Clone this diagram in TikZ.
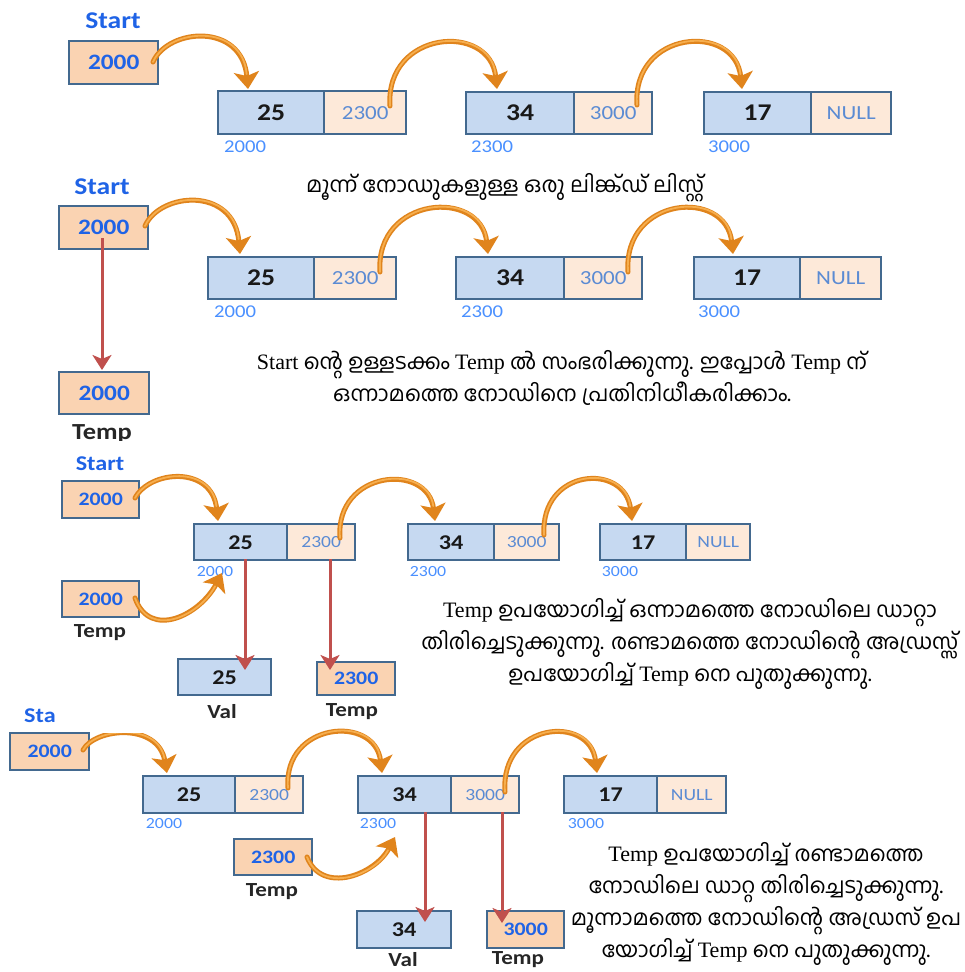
\documentclass[tikz,border=0pt]{standalone}
\usepackage{fontspec}
\usetikzlibrary{arrows.meta}
\setmainfont{Liberation Serif}
\newfontfamily\mlfont[Script=Malayalam,Scale=0.98]{Hind Kochi}
\newfontfamily\calfont[FakeStretch=1.15]{Carlito}

\definecolor{cellblue}{HTML}{C6D9F1}
\definecolor{ptrpeach}{HTML}{FDE9D9}
\definecolor{headpeach}{HTML}{FAD3B2}
\definecolor{edgeblue}{HTML}{43698F}
\definecolor{headtext}{HTML}{1F63E6}
\definecolor{ptrtext}{HTML}{5B8BD3}
\definecolor{addrtext}{HTML}{4A90FF}
\definecolor{linkorange}{HTML}{E0841C}
\definecolor{linklight}{HTML}{F6AE4E}
\definecolor{copyred}{HTML}{C0504D}

\tikzset{
  cellbase/.style={draw=edgeblue, line width=2.4pt, inner sep=0pt, anchor=north west},
  datacell/.style={cellbase, fill=cellblue, text=black!90,
    font=\calfont\bfseries\fontsize{24}{24}\selectfont},
  ptrcell/.style={cellbase, fill=ptrpeach, text=ptrtext,
    font=\calfont\fontsize{20}{20}\selectfont},
  headbox/.style={cellbase, fill=headpeach, text=headtext,
    font=\calfont\bfseries\fontsize{22}{22}\selectfont},
  smalldata/.style={datacell, font=\calfont\bfseries\fontsize{21}{21}\selectfont},
  smallptr/.style={ptrcell, font=\calfont\fontsize{17}{17}\selectfont},
  smallhead/.style={headbox, font=\calfont\bfseries\fontsize{19}{19}\selectfont},
  addr/.style={text=addrtext, inner sep=0pt, font=\calfont\fontsize{18}{18}\selectfont},
  smalladdr/.style={addr, font=\calfont\fontsize{15.5}{15.5}\selectfont},
  headlabel/.style={text=headtext, inner sep=0pt, font=\calfont\bfseries\fontsize{24}{24}\selectfont},
  smallheadlabel/.style={headlabel, font=\calfont\bfseries\fontsize{21}{21}\selectfont},
  varlabel/.style={text=black!85, inner sep=0pt, font=\calfont\bfseries\fontsize{20}{20}\selectfont},
  caption/.style={align=center, inner sep=0pt, font=\fontsize{22}{32}\selectfont},
  link/.style={draw=linkorange, line width=5pt, line cap=round,
    -{Stealth[length=17pt,width=25pt,inset=4pt]},
    postaction={draw=linklight, line width=1.8pt, shorten >=15pt, -}},
  copyarrow/.style={draw=copyred, line width=3pt,
    -{Stealth[length=15pt,width=19pt,inset=4pt]}},
}

\begin{document}
\begin{tikzpicture}[x=1pt,y=-1pt]
\useasboundingbox[fill=white] (0,0) rectangle (965,972);

% ---------------- three-node list ----------------
\node[headlabel] (st1) at (113,21) {Start};
\node[headbox, minimum width=89, minimum height=43] (h1) at (68,40) {2000};
\node[datacell, minimum width=106, minimum height=43] (a1) at (217,90) {25};
\node[ptrcell, minimum width=82, minimum height=43] (a1p) at (323,90) {2300};
\node[datacell, minimum width=108, minimum height=42] (b1) at (465,91) {34};
\node[ptrcell, minimum width=78, minimum height=42] (b1p) at (573,91) {3000};
\node[datacell, minimum width=107, minimum height=42] (c1) at (703,91) {17};
\node[ptrcell, minimum width=80, minimum height=42] (c1p) at (810,91) {NULL};
\node[addr] (a1addr) at (245,147) {2000};
\node[addr] (b1addr) at (492,147) {2300};
\node[addr] (c1addr) at (729,147) {3000};

\coordinate (h1s) at (153,62);  \coordinate (a1in) at (248,89);
\coordinate (a1s) at (390,106); \coordinate (b1in) at (497,89);
\coordinate (b1s) at (637,105); \coordinate (c1in) at (742,89);
\draw[link] (h1s) .. controls (168,28) and (242,22) .. (a1in);
\draw[link] (a1s) .. controls (385,30) and (490,22) .. (b1in);
\draw[link] (b1s) .. controls (632,30) and (735,22) .. (c1in);

\node[caption] (cap1) at (505,188) {\mlfont മൂന്ന് നോഡുകളുള്ള ഒരു ലിങ്ക്ഡ് ലിസ്റ്റ്};

% ---------------- copy Start into Temp ----------------
\node[headlabel] (st2) at (102,187) {Start};
\node[headbox, minimum width=89, minimum height=43] (h2) at (58,205) {2000};
\node[datacell, minimum width=106, minimum height=42] (a2) at (207,256) {25};
\node[ptrcell, minimum width=82, minimum height=42] (a2p) at (313,256) {2300};
\node[datacell, minimum width=108, minimum height=42] (b2) at (455,256) {34};
\node[ptrcell, minimum width=78, minimum height=42] (b2p) at (563,256) {3000};
\node[datacell, minimum width=106, minimum height=42] (c2) at (693,256) {17};
\node[ptrcell, minimum width=81, minimum height=42] (c2p) at (799,256) {NULL};
\node[addr] (a2addr) at (235,312) {2000};
\node[addr] (b2addr) at (482,312) {2300};
\node[addr] (c2addr) at (719,312) {3000};
\node[headbox, minimum width=90, minimum height=42] (t2) at (58,371) {2000};
\begin{scope}
  \clip (0,420) rectangle (300,440);
  \node[varlabel, font=\calfont\bfseries\fontsize{23}{23}\selectfont] (t2lab) at (102,434) {Temp};
\end{scope}

\coordinate (h2s) at (145,226); \coordinate (a2in) at (240,254);
\coordinate (a2s) at (380,272); \coordinate (b2in) at (488,254);
\coordinate (b2s) at (628,272); \coordinate (c2in) at (733,254);
\draw[link] (h2s) .. controls (160,192) and (234,186) .. (a2in);
\draw[link] (a2s) .. controls (375,196) and (481,188) .. (b2in);
\draw[link] (b2s) .. controls (623,196) and (726,188) .. (c2in);
\coordinate (h2d) at (102,238); \coordinate (t2in) at (102,370);
\draw[copyarrow] (h2d) -- (t2in);

\node[caption] (cap2) at (562,378) {{\rmfamily Start} \mlfont ന്റെ ഉള്ളടക്കം {\rmfamily Temp} ൽ സംഭരിക്കുന്നു. ഇപ്പോൾ {\rmfamily Temp} ന്\\
\mlfont ഒന്നാമത്തെ നോഡിനെ പ്രതിനിധീകരിക്കാം.};

% ---------------- read first node ----------------
\node[smallheadlabel] (st3) at (100,464) {Start};
\node[smallhead, minimum width=77, minimum height=37] (h3) at (61,480) {2000};
\node[smalldata, minimum width=93, minimum height=36] (a3) at (193,523) {25};
\node[smallptr, minimum width=68, minimum height=36] (a3p) at (286,523) {2300};
\node[smalldata, minimum width=86, minimum height=36] (b3) at (407,523) {34};
\node[smallptr, minimum width=65, minimum height=36] (b3p) at (493,523) {3000};
\node[smalldata, minimum width=86, minimum height=36] (c3) at (599,523) {17};
\node[smallptr, minimum width=64, minimum height=36] (c3p) at (685,523) {NULL};
\node[smalladdr] (a3addr) at (215,572) {2000};
\node[smalladdr] (b3addr) at (428,572) {2300};
\node[smalladdr] (c3addr) at (620,572) {3000};
\node[smallhead, minimum width=77, minimum height=36] (t3) at (61,580) {2000};
\node[varlabel] (t3lab) at (100,633) {Temp};
\node[smalldata, minimum width=93, minimum height=36] (v3) at (177,658) {25};
\node[varlabel] (v3lab) at (222,712) {Val};
\node[smallhead, minimum width=78, minimum height=33] (n3) at (316,661) {2300};
\node[varlabel] (n3lab) at (352,712) {Temp};

\coordinate (h3s) at (135,498); \coordinate (a3in) at (218,521);
\coordinate (t3s) at (135,598); \coordinate (a3up) at (222,573);
\coordinate (a3s) at (340,538); \coordinate (b3in) at (435,521);
\coordinate (b3s) at (544,535); \coordinate (c3in) at (632,521);
\draw[link] (h3s) .. controls (150,470) and (212,465) .. (a3in);
\draw[link] (t3s) .. controls (150,640) and (200,615) .. (a3up);
\draw[link] (a3s) .. controls (335,470) and (428,462) .. (b3in);
\draw[link] (b3s) .. controls (540,468) and (625,462) .. (c3in);
\coordinate (a3d) at (245,559); \coordinate (v3in) at (245,670);
\coordinate (a3pd) at (330,559); \coordinate (n3in) at (330,670);
\draw[copyarrow] (a3d) -- (v3in);
\draw[copyarrow] (a3pd) -- (n3in);

\node[caption] (cap3) at (690,644) {{\rmfamily Temp} \mlfont ഉപയോഗിച്ച് ഒന്നാമത്തെ നോഡിലെ ഡാറ്റാ\\
\mlfont തിരിച്ചെടുക്കുന്നു. രണ്ടാമത്തെ നോഡിന്റെ അഡ്രസ്സ്\\
\mlfont ഉപയോഗിച്ച് {\rmfamily Temp} നെ പുതുക്കുന്നു.};

% ---------------- read second node ----------------
\node[smallheadlabel, anchor=west] (st4) at (24,716) {Sta};
\node[smallhead, minimum width=79, minimum height=37] (h4) at (9,732) {2000};
\node[smalldata, minimum width=92, minimum height=37] (a4) at (142,775) {25};
\node[smallptr, minimum width=68, minimum height=37] (a4p) at (234,775) {2300};
\node[smalldata, minimum width=93, minimum height=37] (b4) at (357,775) {34};
\node[smallptr, minimum width=68, minimum height=37] (b4p) at (450,775) {3000};
\node[smalldata, minimum width=93, minimum height=37] (c4) at (563,775) {17};
\node[smallptr, minimum width=69, minimum height=37] (c4p) at (656,775) {NULL};
\node[smalladdr] (a4addr) at (164,824) {2000};
\node[smalladdr] (b4addr) at (378,824) {2300};
\node[smalladdr] (c4addr) at (586,824) {3000};
\node[smallhead, minimum width=78, minimum height=36] (t4) at (233,838) {2300};
\node[varlabel] (t4lab) at (272,892) {Temp};
\node[smalldata, minimum width=94, minimum height=37] (v4) at (356,910) {34};
\node[varlabel] (v4lab) at (403,960) {Val};
\node[smallhead, minimum width=77, minimum height=37] (n4) at (486,910) {3000};
\node[varlabel] (n4lab) at (518,960) {Temp};

\coordinate (h4s) at (83,750);  \coordinate (a4in) at (167,773);
\coordinate (a4s) at (288,788); \coordinate (b4in) at (382,773);
\coordinate (b4s) at (505,792); \coordinate (c4in) at (597,773);
\coordinate (t4s) at (307,857); \coordinate (b4up) at (395,837);
\begin{scope}
  % the top of this link is cut off flat
  \clip (0,733) rectangle (220,800) (0,690) rectangle (50,733) (150,690) rectangle (220,733);
  \draw[link] (h4s) .. controls (95,728) and (158,722) .. (a4in);
\end{scope}
\draw[link] (a4s) .. controls (283,722) and (375,714) .. (b4in);
\draw[link] (b4s) .. controls (500,722) and (590,714) .. (c4in);
\draw[link] (t4s) .. controls (322,895) and (375,875) .. (b4up);
\coordinate (b4d) at (425,812); \coordinate (v4in) at (425,922);
\coordinate (b4pd) at (502,812); \coordinate (n4in) at (502,923);
\draw[copyarrow] (b4d) -- (v4in);
\draw[copyarrow] (b4pd) -- (n4in);

\node[caption] (cap4) at (766,904) {{\rmfamily Temp} \mlfont ഉപയോഗിച്ച് രണ്ടാമത്തെ\\
\mlfont നോഡിലെ ഡാറ്റ തിരിച്ചെടുക്കുന്നു.\\
\mlfont മൂന്നാമത്തെ നോഡിന്റെ അഡ്രസ് ഉപ\\
\mlfont യോഗിച്ച് {\rmfamily Temp} നെ പുതുക്കുന്നു.};
\end{tikzpicture}
\end{document}
